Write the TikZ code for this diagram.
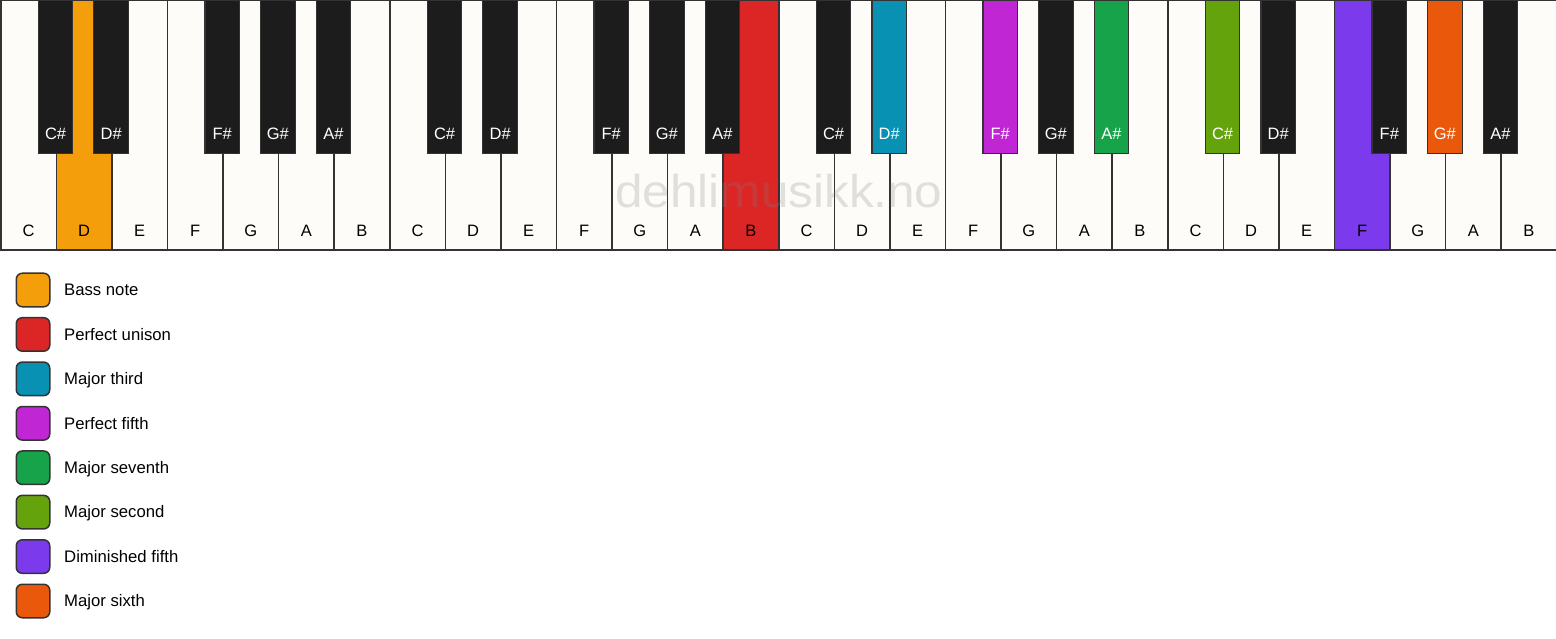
\documentclass[tikz,border=0pt]{standalone}
\usepackage{fontspec}
\setmainfont{Liberation Sans}
\usetikzlibrary{calc}
\definecolor{ivory}{HTML}{FDFCF8}
\definecolor{ebony}{HTML}{1C1C1C}
\definecolor{keyedge}{HTML}{333333}
\definecolor{cbass}{HTML}{F59E0B}
\definecolor{cunison}{HTML}{DC2626}
\definecolor{cthird}{HTML}{0891B2}
\definecolor{cfifth}{HTML}{C026D3}
\definecolor{cseventh}{HTML}{16A34A}
\definecolor{csecond}{HTML}{65A30D}
\definecolor{cdim}{HTML}{7C3AED}
\definecolor{csixth}{HTML}{EA580C}
\begin{document}
\begin{tikzpicture}[x=1pt,y=-1pt,
  whitekey/.style={rectangle, draw=keyedge, line width=1.5pt, fill=ivory,
    minimum width=55.5714pt, minimum height=249.5pt, inner sep=0pt, anchor=north west},
  blackkey/.style={rectangle, draw=keyedge, line width=1.2pt, fill=ebony,
    minimum width=34.5pt, minimum height=153pt, inner sep=0pt, anchor=north},
  wlabel/.style={font=\fontsize{16.5pt}{19pt}\selectfont, text=black, inner sep=0pt, anchor=base},
  blabel/.style={font=\fontsize{16.5pt}{19pt}\selectfont, text=white, inner sep=0pt, anchor=base},
  swatch/.style={rectangle, rounded corners=6pt, draw=keyedge, line width=1.5pt,
    minimum width=33.5pt, minimum height=33.5pt, inner sep=0pt},
  legtext/.style={font=\fontsize{16.7pt}{19pt}\selectfont, text=black, anchor=base west, inner sep=0pt},
  watermark/.style={font=\fontsize{46pt}{50pt}\selectfont, text=gray, text opacity=0.23, xscale=1.075, inner sep=0pt, anchor=base}
]
\useasboundingbox (0,0) rectangle (1556,639);
% white keys
\foreach \i/\n/\c in {0/C/ivory,1/D/cbass,2/E/ivory,3/F/ivory,4/G/ivory,5/A/ivory,6/B/ivory,
  7/C/ivory,8/D/ivory,9/E/ivory,10/F/ivory,11/G/ivory,12/A/ivory,13/B/cunison,
  14/C/ivory,15/D/ivory,16/E/ivory,17/F/ivory,18/G/ivory,19/A/ivory,20/B/ivory,
  21/C/ivory,22/D/ivory,23/E/ivory,24/F/cdim,25/G/ivory,26/A/ivory,27/B/ivory}{
  \node[whitekey, fill=\c] (w\i) at (\i*55.5714,0) {};
  \node[wlabel] (wl\i) at ($(w\i.south)+(0,-14.6)$) {\n};
}
% black keys
\foreach \b/\n/\c in {1/C/ebony,2/D/ebony,4/F/ebony,5/G/ebony,6/A/ebony,
  8/C/ebony,9/D/ebony,11/F/ebony,12/G/ebony,13/A/ebony,
  15/C/ebony,16/D/cthird,18/F/cfifth,19/G/ebony,20/A/cseventh,
  22/C/csecond,23/D/ebony,25/F/ebony,26/G/csixth,27/A/ebony}{
  \node[blackkey, fill=\c] (b\b) at (\b*55.5714,0) {};
  \node[blabel] (bl\b) at ($(b\b.south)+(0,-14.8)$) {\n\#};
}
% watermark
\node[watermark] (wm) at (779,208) {dehlimusikk.no};
% legend
\foreach \k/\c/\t in {0/cbass/Bass note,1/cunison/Perfect unison,2/cthird/Major third,
  3/cfifth/Perfect fifth,4/cseventh/Major seventh,5/csecond/Major second,
  6/cdim/Diminished fifth,7/csixth/Major sixth}{
  \node[swatch, fill=\c] (sw\k) at (33,290+44.43*\k) {};
  \node[legtext] (lt\k) at (64,295.8+44.43*\k) {\t};
}
\end{tikzpicture}
\end{document}
